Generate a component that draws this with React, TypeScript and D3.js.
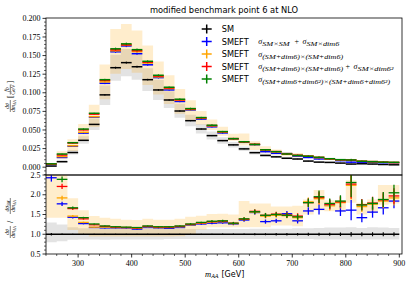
import React from "react";
import * as d3 from "d3";

// binning of m_AA (GeV)
const binEdges = d3.range(240, 901, 20);

// SM differential cross section (fb/GeV), one value per bin
const smXsec = [
  0.0015, 0.0074, 0.0197, 0.0361, 0.0575, 0.0972, 0.1337, 0.1405, 0.135, 0.1176, 0.1038,
  0.0903, 0.0755, 0.0625, 0.0513, 0.0424, 0.0357, 0.030, 0.0246, 0.0195, 0.0158, 0.0139,
  0.012, 0.011, 0.0082, 0.0068, 0.0064, 0.0055, 0.0042, 0.0046, 0.0042, 0.0036, 0.0032,
];

// SMEFT / SM ratios
const ratioBlue = [
  2.43, 1.77, 1.43, 1.27, 1.17, 1.16, 1.16, 1.16, 1.13, 1.17, 1.16, 1.15, 1.17, 1.23, 1.26,
  1.28, 1.29, 1.26, 1.36, 1.55, 1.32, 1.34, 1.52, 1.34, 1.59, 1.63, 1.74, 1.59, 1.61, 1.42,
  1.56, 1.67, 1.84,
];
const ratioOrange = [
  2.6, 1.92, 1.46, 1.3, 1.18, 1.18, 1.17, 1.17, 1.15, 1.19, 1.17, 1.17, 1.19, 1.24, 1.28,
  1.31, 1.32, 1.27, 1.38, 1.56, 1.46, 1.48, 1.47, 1.42, 1.82, 1.9, 1.72, 1.8, 2.24, 1.7,
  1.76, 1.84, 1.92,
];
const ratioRed = [
  2.85, 2.21, 1.65, 1.39, 1.24, 1.2, 1.18, 1.17, 1.16, 1.2, 1.18, 1.18, 1.2, 1.25, 1.29,
  1.32, 1.33, 1.28, 1.38, 1.58, 1.48, 1.51, 1.49, 1.46, 1.8, 1.93, 1.76, 1.82, 2.27, 1.75,
  1.79, 1.87, 1.97,
];
const ratioGreen = [
  3.0, 2.39, 1.67, 1.42, 1.26, 1.21, 1.19, 1.18, 1.17, 1.21, 1.19, 1.19, 1.21, 1.26, 1.3,
  1.33, 1.34, 1.28, 1.39, 1.57, 1.48, 1.5, 1.48, 1.44, 1.8, 1.95, 1.78, 1.84, 2.31, 1.74,
  1.78, 1.88, 2.05,
];

// statistical errors (relative)
const eftErr = [
  0.04, 0.03, 0.02, 0.015, 0.01, 0.01, 0.01, 0.01, 0.01, 0.01, 0.01, 0.01, 0.012, 0.015,
  0.015, 0.02, 0.02, 0.025, 0.03, 0.035, 0.04, 0.04, 0.045, 0.05, 0.06, 0.08, 0.07, 0.08,
  0.16, 0.08, 0.09, 0.1, 0.1,
];
const smErr = [
  0.03, 0.02, 0.015, 0.012, 0.01, 0.01, 0.01, 0.01, 0.01, 0.01, 0.01, 0.01, 0.012, 0.012,
  0.015, 0.015, 0.018, 0.02, 0.02, 0.025, 0.025, 0.03, 0.03, 0.03, 0.035, 0.04, 0.04, 0.045,
  0.06, 0.05, 0.05, 0.05, 0.05,
];

// scale uncertainty bands (relative to SM)
const smBandLo = [
  0.8, 0.82, 0.86, 0.87, 0.87, 0.86, 0.87, 0.87, 0.87, 0.87, 0.87, 0.88, 0.88, 0.88, 0.88,
  0.88, 0.88, 0.88, 0.88, 0.88, 0.88, 0.88, 0.88, 0.88, 0.88, 0.87, 0.87, 0.87, 0.86, 0.87,
  0.87, 0.87, 0.87,
];
const smBandHi = [
  1.3, 1.25, 1.18, 1.15, 1.14, 1.13, 1.13, 1.13, 1.13, 1.13, 1.13, 1.13, 1.13, 1.13, 1.13,
  1.13, 1.13, 1.13, 1.13, 1.14, 1.14, 1.14, 1.14, 1.15, 1.15, 1.16, 1.17, 1.17, 1.18, 1.16,
  1.18, 1.17, 1.16,
];
const eftBandLo = [
  1.42, 1.42, 1.11, 0.98, 0.94, 0.94, 0.94, 0.94, 0.94, 0.94, 0.94, 0.94, 0.95, 1.0, 1.12,
  1.18, 1.18, 1.18, 1.18, 1.18, 1.18, 1.22, 1.22, 1.2, 1.5, 1.6, 1.58, 1.58, 1.8, 1.5, 1.55,
  1.75, 1.78,
];
const eftBandHi = [
  3.0, 2.9, 1.91, 1.61, 1.46, 1.42, 1.39, 1.37, 1.36, 1.39, 1.37, 1.37, 1.39, 1.44, 1.47,
  1.51, 1.52, 1.5, 1.84, 1.78, 1.78, 1.7, 1.7, 1.72, 1.88, 2.12, 1.86, 1.86, 2.37, 1.8, 1.88,
  2.25, 2.25,
];

const mainYTicks = [0, 0.025, 0.05, 0.075, 0.1, 0.125, 0.15, 0.175, 0.2];
const ratioYTicks = [0.5, 1.0, 1.5, 2.0, 2.5];
const xTicks = [300, 400, 500, 600, 700, 800, 900];

const eftSeries = [
  { name: "SMEFT", color: "#0000ff", ratio: ratioBlue },
  { name: "SMEFT", color: "#ffa500", ratio: ratioOrange },
  { name: "SMEFT", color: "#ff0000", ratio: ratioRed },
  { name: "SMEFT", color: "#008000", ratio: ratioGreen },
];

const serif = "'Liberation Serif', 'DejaVu Serif', serif";
const sans = "'DejaVu Sans', sans-serif";

type StepPt = { x: number; lo: number; hi: number };

export default function App() {
  const W = 414;
  const H = 285;
  const x = d3.scaleLinear().domain([240, 905]).range([46, 402]);
  const yM = d3.scaleLinear().domain([-0.0105, 0.2005]).range([175, 18]);
  const yR = d3.scaleLinear().domain([0.5, 2.5]).range([254, 175]);

  const steps = (lo: number[], hi: number[]): StepPt[] =>
    binEdges.map((e, i) => {
      const j = Math.min(i, lo.length - 1);
      return { x: e, lo: lo[j], hi: hi[j] };
    });

  const areaMain = d3
    .area<StepPt>()
    .x((d) => x(d.x))
    .y0((d, i) => yM(d.lo * smXsec[Math.min(i, smXsec.length - 1)]))
    .y1((d, i) => yM(d.hi * smXsec[Math.min(i, smXsec.length - 1)]))
    .curve(d3.curveStepAfter);
  const areaRatio = d3
    .area<StepPt>()
    .x((d) => x(d.x))
    .y0((d) => yR(d.lo))
    .y1((d) => yR(d.hi))
    .curve(d3.curveStepAfter);

  const smBand = steps(smBandLo, smBandHi);
  const eftBand = steps(eftBandLo, eftBandHi);

  const mid = (i: number) => (binEdges[i] + binEdges[i + 1]) / 2;

  // minor ticks
  const mainMinor = d3.range(-2, 41).filter((k) => k % 5 !== 0).map((k) => k * 0.005);
  const ratioMinor = d3.range(5, 26).filter((k) => k % 5 !== 0).map((k) => k * 0.1);
  const xMinor = binEdges.filter((e) => e % 100 !== 0);

  const legendY = [29, 41.5, 54, 66.5, 79];
  const legendColors = ["#000000", ...eftSeries.map((s) => s.color)];
  const legendNames = ["SM", ...eftSeries.map((s) => s.name)];

  const sub = (txt: string, x0: number, len: number, y0: number) => (
    <text
      x={x0}
      y={y0 + 4.6}
      fontFamily={serif}
      fontStyle="italic"
      fontSize={6}
      textLength={len}
      lengthAdjust="spacingAndGlyphs"
    >
      {txt}
    </text>
  );
  const sig = (x0: number, y0: number) => (
    <text x={x0} y={y0 + 2.6} fontFamily={serif} fontStyle="italic" fontSize={8}>
      σ
    </text>
  );
  const plus = (x0: number, y0: number) => (
    <text x={x0} y={y0 + 2.8} fontFamily={serif} fontSize={8}>
      +
    </text>
  );

  return (
    <div style={{ position: "fixed", left: 0, top: 0 }}>
      <svg width={W} height={H} style={{ display: "block", background: "#fff" }}>
        <defs>
          <clipPath id="clipMain">
            <rect x={46} y={18} width={356} height={157} />
          </clipPath>
          <clipPath id="clipRatio">
            <rect x={46} y={175} width={356} height={79} />
          </clipPath>
        </defs>

        {/* title */}
        <text x={224} y={13} textAnchor="middle" fontFamily={sans} fontSize={8.3} fill="#000">
          modified benchmark point 6 at NLO
        </text>

        {/* ---------- main panel ---------- */}
        <g clipPath="url(#clipMain)">
          <path d={areaMain(smBand) ?? ""} fill="#808080" fillOpacity={0.22} />
          <path d={areaMain(eftBand) ?? ""} fill="#ffa500" fillOpacity={0.2} />
          {smXsec.map((v, i) => (
            <g key={`sm${i}`} stroke="#000" strokeWidth={1.5}>
              <line x1={x(binEdges[i])} x2={x(binEdges[i + 1])} y1={yM(v)} y2={yM(v)} />
              <line
                x1={x(mid(i))}
                x2={x(mid(i))}
                y1={yM(v * (1 - smErr[i]))}
                y2={yM(v * (1 + smErr[i]))}
                strokeWidth={1}
              />
            </g>
          ))}
          {eftSeries.map((s, si) =>
            s.ratio.map((r, i) => {
              const v = smXsec[i] * r;
              return (
                <g key={`m${si}-${i}`} stroke={s.color} strokeWidth={1.5}>
                  <line x1={x(binEdges[i])} x2={x(binEdges[i + 1])} y1={yM(v)} y2={yM(v)} />
                  <line
                    x1={x(mid(i))}
                    x2={x(mid(i))}
                    y1={yM(v * (1 - eftErr[i]))}
                    y2={yM(v * (1 + eftErr[i]))}
                    strokeWidth={1}
                  />
                </g>
              );
            })
          )}
        </g>

        {/* main axes frame */}
        <rect x={46} y={18} width={356} height={157} fill="none" stroke="#000" strokeWidth={0.8} />
        {mainYTicks.map((t) => (
          <g key={`my${t}`}>
            <line x1={42.5} x2={46} y1={yM(t)} y2={yM(t)} stroke="#000" strokeWidth={0.8} />
            <text
              x={40.5}
              y={yM(t) + 2.6}
              textAnchor="end"
              fontFamily={serif}
              fontSize={8}
              fill="#000"
            >
              {d3.format(".3f")(t)}
            </text>
          </g>
        ))}
        {mainMinor.map((t) => (
          <line key={`mmy${t}`} x1={44} x2={46} y1={yM(t)} y2={yM(t)} stroke="#000" strokeWidth={0.6} />
        ))}

        {/* main y label: dσ/dm_AA [fb/GeV] */}
        <g transform="translate(10,97) rotate(-90)" fontFamily={serif} fill="#000">
          <text x={-9} y={-1.2} textAnchor="middle" fontSize={5.5} fontStyle="italic">
            dσ
          </text>
          <line x1={-15} x2={-3} y1={0.3} y2={0.3} stroke="#000" strokeWidth={0.5} />
          <text x={-9} y={5} textAnchor="middle" fontSize={5.5} fontStyle="italic">
            dm<tspan fontSize={4} dy={1}>AA</tspan>
          </text>
          <text x={-1} y={2.8} fontSize={8}>
            [
          </text>
          <text x={7.5} y={-1.2} textAnchor="middle" fontSize={5.5} fontStyle="italic">
            fb
          </text>
          <line x1={2.5} x2={12.5} y1={0.3} y2={0.3} stroke="#000" strokeWidth={0.5} />
          <text x={7.5} y={5} textAnchor="middle" fontSize={5.5}>
            GeV
          </text>
          <text x={13.5} y={2.8} fontSize={8}>
            ]
          </text>
        </g>

        {/* legend */}
        {legendY.map((ly, k) => (
          <g key={`lg${k}`}>
            <line x1={201.7} x2={211.7} y1={ly} y2={ly} stroke={legendColors[k]} strokeWidth={1.5} />
            <line x1={206.7} x2={206.7} y1={ly - 4.5} y2={ly + 4.5} stroke={legendColors[k]} strokeWidth={1.5} />
            <text x={221.7} y={ly + 3} fontFamily={sans} fontSize={8.2} fill="#000">
              {legendNames[k]}
            </text>
          </g>
        ))}
        <g fill="#000">
          {sig(258.3, legendY[1])}
          {sub("SM×SM", 262.2, 27.5, legendY[1])}
          {plus(294.5, legendY[1])}
          {sig(302.5, legendY[1])}
          {sub("SM×dim6", 306.5, 32.8, legendY[1])}

          {sig(258.3, legendY[2])}
          {sub("(SM+dim6)×(SM+dim6)", 262.2, 81, legendY[2])}

          {sig(258.3, legendY[3])}
          {sub("(SM+dim6)×(SM+dim6)", 262.2, 81, legendY[3])}
          {plus(345.5, legendY[3])}
          {sig(353.5, legendY[3])}
          {sub("SM×dim6²", 357.5, 36, legendY[3])}

          {sig(258.3, legendY[4])}
          {sub("(SM+dim6+dim6²)×(SM+dim6+dim6²)", 262.2, 128, legendY[4])}
        </g>

        {/* ---------- ratio panel ---------- */}
        <g clipPath="url(#clipRatio)">
          <path d={areaRatio(smBand) ?? ""} fill="#808080" fillOpacity={0.22} />
          <path d={areaRatio(eftBand) ?? ""} fill="#ffa500" fillOpacity={0.2} />
          <line x1={x(binEdges[0])} x2={x(binEdges[binEdges.length - 1])} y1={yR(1)} y2={yR(1)} stroke="#000" strokeWidth={1.5} />
          {smErr.map((e, i) => (
            <line
              key={`se${i}`}
              x1={x(mid(i))}
              x2={x(mid(i))}
              y1={yR(1 - e)}
              y2={yR(1 + e)}
              stroke="#000"
              strokeWidth={1.1}
            />
          ))}
          {eftSeries.map((s, si) =>
            s.ratio.map((r, i) => (
              <g key={`r${si}-${i}`} stroke={s.color} strokeWidth={1.3}>
                <line x1={x(binEdges[i])} x2={x(binEdges[i + 1])} y1={yR(r)} y2={yR(r)} />
                <line
                  x1={x(mid(i))}
                  x2={x(mid(i))}
                  y1={yR(r - eftErr[i] * r)}
                  y2={yR(r + eftErr[i] * r)}
                />
              </g>
            ))
          )}
        </g>

        {/* ratio axes frame */}
        <rect x={46} y={175} width={356} height={79} fill="none" stroke="#000" strokeWidth={0.8} />
        {ratioYTicks.map((t) => (
          <g key={`ry${t}`}>
            <line x1={42.5} x2={46} y1={yR(t)} y2={yR(t)} stroke="#000" strokeWidth={0.8} />
            <text x={40.5} y={yR(t) + 2.6} textAnchor="end" fontFamily={serif} fontSize={8} fill="#000">
              {d3.format(".1f")(t)}
            </text>
          </g>
        ))}
        {ratioMinor.map((t) => (
          <line key={`rmy${t}`} x1={44} x2={46} y1={yR(t)} y2={yR(t)} stroke="#000" strokeWidth={0.6} />
        ))}
        {xTicks.map((t) => (
          <g key={`x${t}`}>
            <line x1={x(t)} x2={x(t)} y1={254} y2={257.5} stroke="#000" strokeWidth={0.8} />
            <text x={x(t)} y={265.5} textAnchor="middle" fontFamily={serif} fontSize={8} fill="#000">
              {t}
            </text>
          </g>
        ))}
        {xMinor.map((t) => (
          <line key={`xm${t}`} x1={x(t)} x2={x(t)} y1={254} y2={256} stroke="#000" strokeWidth={0.6} />
        ))}

        {/* x label */}
        <text x={205} y={276.5} fontFamily={serif} fontSize={8.5} fill="#000">
          <tspan fontStyle="italic">m</tspan>
          <tspan fontStyle="italic" fontSize={6} dy={1.5}>
            AA
          </tspan>
        </text>
        <text x={221.5} y={276.5} fontFamily={sans} fontSize={8} fill="#000">
          [GeV]
        </text>

        {/* ratio y label */}
        <g transform="translate(10,216) rotate(-90)" fontFamily={serif} fill="#000">
          <text x={-16} y={-1.2} textAnchor="middle" fontSize={5.5} fontStyle="italic">
            dσ
          </text>
          <line x1={-22} x2={-10} y1={0.3} y2={0.3} stroke="#000" strokeWidth={0.5} />
          <text x={-16} y={5} textAnchor="middle" fontSize={5.5} fontStyle="italic">
            dm<tspan fontSize={4} dy={1}>AA</tspan>
          </text>
          <text x={-7} y={2.8} fontSize={8}>
            /
          </text>
          <text x={10} y={-1.2} textAnchor="middle" fontSize={5.5} fontStyle="italic">
            dσ<tspan fontSize={4} dy={1}>SM</tspan>
          </text>
          <line x1={2} x2={18} y1={0.3} y2={0.3} stroke="#000" strokeWidth={0.5} />
          <text x={10} y={5} textAnchor="middle" fontSize={5.5} fontStyle="italic">
            dm<tspan fontSize={4} dy={1}>AA</tspan>
          </text>
        </g>
      </svg>
    </div>
  );
}
